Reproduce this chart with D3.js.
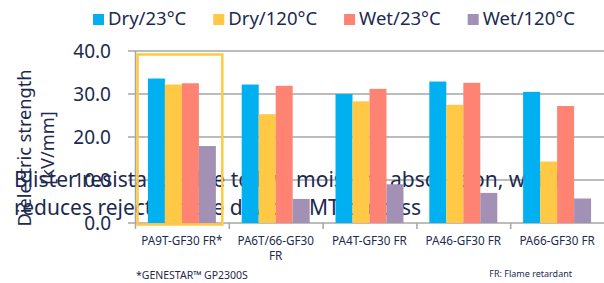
<!DOCTYPE html>
<html>
<head>
<meta charset="utf-8">
<script src="https://cdn.jsdelivr.net/npm/d3@7"></script>
<style>
  body { margin: 0; background: #fff; }
  text { font-family: "Noto Sans", "Open Sans", sans-serif; }
</style>
</head>
<body>
<svg id="chart" width="604" height="283"></svg>
<script>
// Data
const materials = ["PA9T-GF30 FR*", "PA6T/66-GF30 FR", "PA4T-GF30 FR", "PA46-GF30 FR", "PA66-GF30 FR"];
const conditions = ["Dry/23°C", "Dry/120°C", "Wet/23°C", "Wet/120°C"];
const dry23 = [33.6, 32.2, 30.0, 32.9, 30.5];
const dry120 = [32.2, 25.3, 28.3, 27.5, 14.3];
const wet23 = [32.5, 31.9, 31.2, 32.6, 27.2];
const wet120 = [17.9, 5.6, 9.0, 7.0, 5.7];
const yTicks = [0, 10, 20, 30, 40];
const palette = ["#00B0F0", "#FFC845", "#FF8373", "#A291B4"];

const seriesValues = [dry23, dry120, wet23, wet120];
const rows = materials.map((m, i) => ({
  material: m,
  values: conditions.map((c, j) => ({ cond: c, value: seriesValues[j][i] }))
}));

const ink = "#1C2A4F";
const gridColor = "#A6A6A6";

const svg = d3.select("#chart");

// scales
const x = d3.scaleBand()
  .domain(materials)
  .range([135, 604]);
const xSub = d3.scaleBand()
  .domain(conditions)
  .range([0, x.bandwidth()])
  .paddingOuter(0.76);
const y = d3.scaleLinear()
  .domain([0, 40])
  .range([223, 51]);

// gridlines
svg.append("g")
  .selectAll("line")
  .data(yTicks)
  .join("line")
  .attr("x1", 128)
  .attr("x2", 604)
  .attr("y1", d => y(d))
  .attr("y2", d => y(d))
  .attr("stroke", gridColor)
  .attr("stroke-width", 1.5);

// y axis line
svg.append("line")
  .attr("x1", 135.5).attr("x2", 135.5)
  .attr("y1", y(40)).attr("y2", y(0))
  .attr("stroke", gridColor)
  .attr("stroke-width", 1.5);

// category ticks
svg.append("g")
  .selectAll("line")
  .data(materials)
  .join("line")
  .attr("x1", d => x(d) + 0.5)
  .attr("x2", d => x(d) + 0.5)
  .attr("y1", y(0))
  .attr("y2", y(0) + 6)
  .attr("stroke", gridColor)
  .attr("stroke-width", 1.5);

// y tick labels
svg.append("g")
  .selectAll("text")
  .data(yTicks)
  .join("text")
  .attr("x", 111)
  .attr("y", d => y(d))
  .attr("dy", "0.36em")
  .attr("text-anchor", "end")
  .attr("fill", ink)
  .style("font-size", "19px")
  .text(d => d.toFixed(1));

// y axis title (two lines)
const yTitle = svg.append("text")
  .attr("transform", "translate(0,148) rotate(-90)")
  .attr("text-anchor", "middle")
  .attr("fill", ink)
  .style("font-size", "18.2px");
yTitle.append("tspan").attr("x", 0).attr("y", 31).text("Dielectric strength");
yTitle.append("tspan").attr("x", 0).attr("y", 54).text("[kV/mm]");

// overlay statement (sits behind the bars)
const note = svg.append("text")
  .attr("fill", ink)
  .style("font-size", "21px");
note.append("tspan").attr("x", 14).attr("y", 187)
  .text("Blister resistance due to low moisture absorption, which");
note.append("tspan").attr("x", 14).attr("y", 215)
  .text("reduces rejects in the device SMT process");

// bars
const groups = svg.append("g")
  .selectAll("g")
  .data(rows)
  .join("g")
  .attr("transform", d => `translate(${x(d.material)},0)`);

groups.selectAll("rect")
  .data(d => d.values)
  .join("rect")
  .attr("x", d => xSub(d.cond))
  .attr("width", xSub.bandwidth())
  .attr("y", d => y(d.value))
  .attr("height", d => y(0) - y(d.value))
  .attr("fill", (d, i) => palette[i]);

// highlight box round the first material
svg.append("rect")
  .attr("x", x(materials[0]) + 2.5)
  .attr("y", y(40) + 3.5)
  .attr("width", x.bandwidth() - 9)
  .attr("height", y(0) - y(40) - 2)
  .attr("fill", "none")
  .attr("stroke", "#FFC845")
  .attr("stroke-width", 2.5);

// category labels, wrapped where the band is too narrow
const catLabels = svg.append("g")
  .selectAll("text")
  .data(materials)
  .join("text")
  .attr("text-anchor", "middle")
  .attr("fill", ink)
  .style("font-size", "11.7px");

catLabels.each(function (d) {
  const t = d3.select(this);
  const cx = x(d) + x.bandwidth() / 2;
  t.text(d);
  if (this.getComputedTextLength() > x.bandwidth() - 6) {
    const parts = d.split(" ");
    const last = parts.pop();
    t.text(null);
    t.append("tspan").attr("x", cx).attr("y", 245).text(parts.join(" "));
    t.append("tspan").attr("x", cx).attr("y", 260).text(last);
  } else {
    t.attr("x", cx).attr("y", 245);
  }
});

// footnotes
svg.append("text")
  .attr("x", 136).attr("y", 279)
  .attr("fill", ink)
  .style("font-size", "10.5px")
  .text("*GENESTAR™ GP2300S");

svg.append("text")
  .attr("x", 572).attr("y", 277)
  .attr("text-anchor", "end")
  .attr("fill", ink)
  .style("font-size", "9px")
  .text("FR: Flame retardant");

// legend
const legend = svg.append("g");
let lx = 93;
conditions.forEach((c, i) => {
  legend.append("rect")
    .attr("x", lx).attr("y", 14)
    .attr("width", 11).attr("height", 11)
    .attr("fill", palette[i]);
  const t = legend.append("text")
    .attr("x", lx + 15).attr("y", 25)
    .attr("fill", ink)
    .style("font-size", "18.5px")
    .text(c);
  lx += 15 + t.node().getComputedTextLength() + 27;
});
</script>
</body>
</html>
